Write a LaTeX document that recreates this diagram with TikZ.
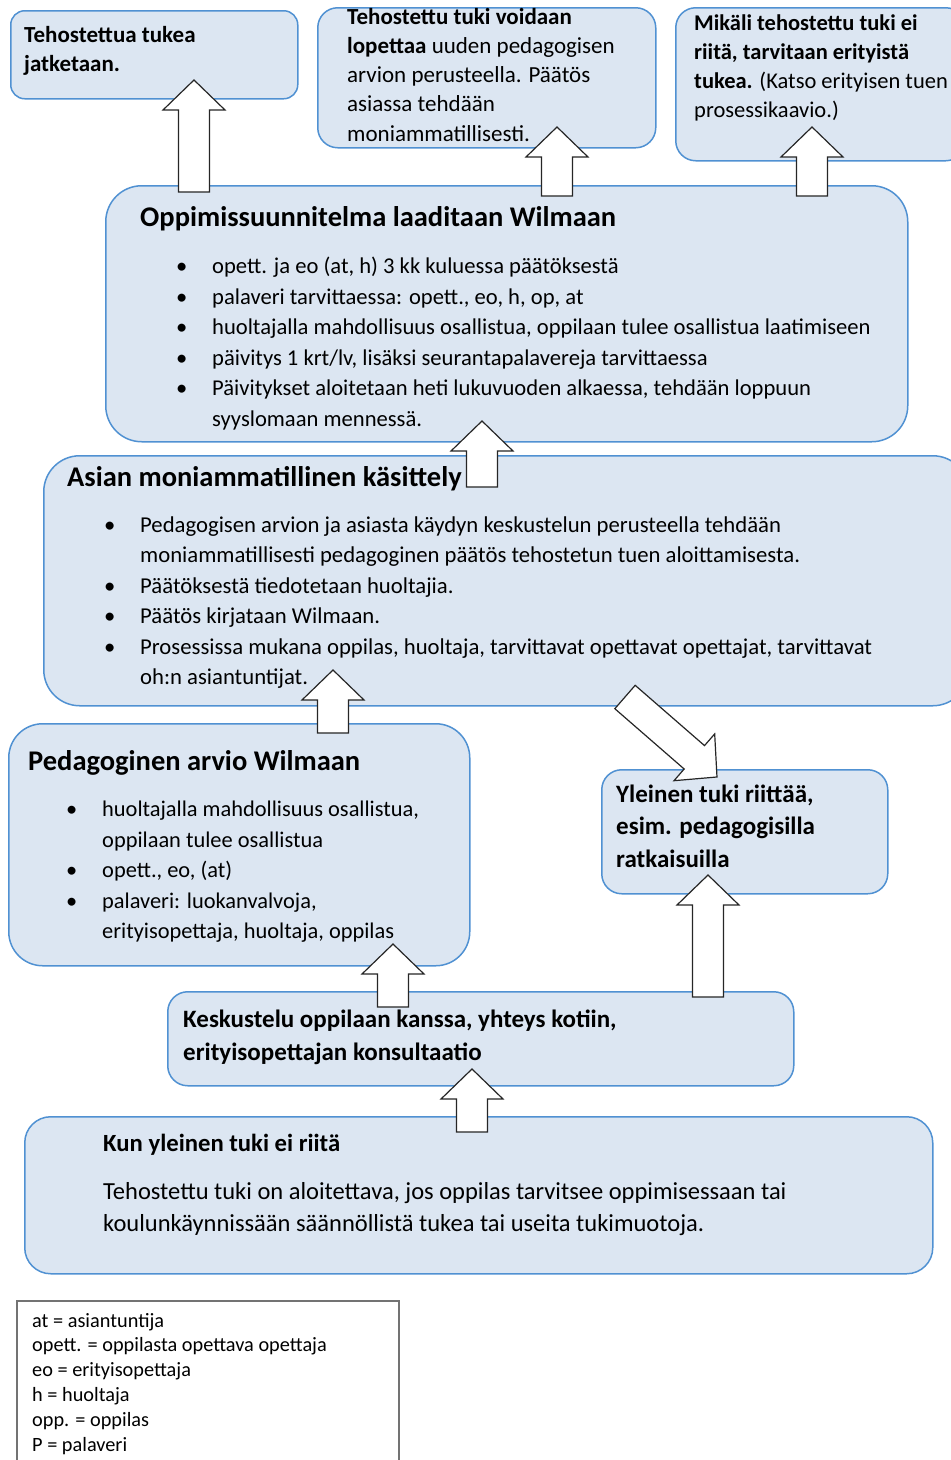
\documentclass[tikz,border=0pt]{standalone}
\usepackage{fontspec}
\setmainfont{Carlito}
\usepackage{array}
\usetikzlibrary{calc}
\usetikzlibrary{positioning}

\definecolor{tausta}{RGB}{220,230,242}
\definecolor{reuna}{RGB}{80,145,210}

\tikzset{
  laatikko/.style={draw=reuna, line width=1.5pt, fill=tausta, anchor=north west, inner sep=0pt},
  teksti/.style={inner sep=0pt, anchor=base west, font=\fontsize{22.6}{30.5}\selectfont},
  otsikko/.style={inner sep=0pt, anchor=base west, font=\bfseries\fontsize{28.5}{32}\selectfont},
  nuolityyli/.style={draw=black!85, fill=white, line width=1.2pt, line join=miter},
  selite/.style={draw=black!55, line width=1.5pt, fill=white, anchor=north west, inner sep=0pt}
}

\newcommand{\rivit}[1]{\begin{tabular}[t]{@{}l@{}}#1\end{tabular}}
\newcommand{\luettelo}[1]{\begin{tabular}[t]{@{}p{36pt}@{}l@{}}#1\end{tabular}}
% nuoli laatikosta toiseen: #1 = tyvi, #2 = karki
\newcommand{\isonuoli}[2]{%
  \path let \p1=($(#2)-(#1)$) in \pgfextra{%
    \pgfmathsetmacro\nk{atan2(\y1,\x1)}\xdef\nkulma{\nk}%
    \pgfmathsetmacro\np{veclen(\x1,\y1)}\xdef\npituus{\np}};
  \begin{scope}[shift={(#1)}, rotate=\nkulma]
    \draw[nuolityyli] (0,-15.5) -- ({\npituus-30},-15.5) -- ({\npituus-30},-31) -- (\npituus,0)
      -- ({\npituus-30},31) -- ({\npituus-30},15.5) -- (0,15.5) -- cycle;
  \end{scope}}

\begin{document}
\begin{tikzpicture}[x=1pt, y=-1pt]
  \useasboundingbox (0,0) rectangle (951,1460);
  \clip (0,0) rectangle (951,1460);

  % laatikot
  \node[laatikko, rounded corners=14pt, minimum width=287pt, minimum height=88pt] (jatk) at (10,10) {};
  \node[laatikko, rounded corners=20pt, minimum width=338pt, minimum height=140pt] (lopet) at (317,7) {};
  \node[laatikko, rounded corners=20pt, minimum width=290pt, minimum height=153pt] (erit) at (675,7) {};
  \node[laatikko, rounded corners=36pt, minimum width=802pt, minimum height=256pt] (ops) at (105,185) {};
  \node[laatikko, rounded corners=36pt, minimum width=925pt, minimum height=250pt] (kasit) at (43,455) {};
  \node[laatikko, rounded corners=34pt, minimum width=461pt, minimum height=242pt] (arvio) at (8,723) {};
  \node[laatikko, rounded corners=20pt, minimum width=286pt, minimum height=124pt] (riittaa) at (601,769) {};
  \node[laatikko, rounded corners=20pt, minimum width=626pt, minimum height=94pt] (kesk) at (167,991) {};
  \node[laatikko, rounded corners=26pt, minimum width=908pt, minimum height=157pt] (kun) at (24,1116) {};
  \node[selite, minimum width=382pt, minimum height=175pt] (sel) at (16,1300) {};

  % tekstit
  \node[teksti, font=\bfseries\fontsize{23}{29}\selectfont] (jatkt) at (24,42)
    {\rivit{Tehostettua tukea\\ jatketaan.}};
  \node[teksti, font=\fontsize{23}{29.3}\selectfont] (lopett) at (347,24)
    {\rivit{\textbf{Tehostettu tuki voidaan}\\ \textbf{lopettaa} uuden pedagogisen\\ arvion perusteella. Päätös\\ asiassa tehdään\\ moniammatillisesti.}};
  \node[teksti, font=\fontsize{22.5}{29.3}\selectfont] (eritt) at (694,30)
    {\rivit{\textbf{Mikäli tehostettu tuki ei}\\ \textbf{riitä, tarvitaan erityistä}\\ \textbf{tukea.} (Katso erityisen tuen\\ prosessikaavio.)}};

  \node[otsikko] (opso) at (140,226) {Oppimissuunnitelma laaditaan Wilmaan};
  \node[teksti, font=\fontsize{22.6}{30.6}\selectfont] (opsl) at (176,273.5)
    {\luettelo{\textbullet & opett. ja eo (at, h) 3 kk kuluessa päätöksestä\\
      \textbullet & palaveri tarvittaessa: opett., eo, h, op, at\\
      \textbullet & huoltajalla mahdollisuus osallistua, oppilaan tulee osallistua  laatimiseen\\
      \textbullet & päivitys 1 krt/lv, lisäksi seurantapalavereja tarvittaessa\\
      \textbullet & Päivitykset aloitetaan heti lukuvuoden alkaessa, tehdään loppuun\\
      & syyslomaan mennessä.}};

  \node[otsikko] (kasito) at (67,486) {Asian moniammatillinen käsittely};
  \node[teksti, font=\fontsize{22.7}{30.4}\selectfont] (kasitl) at (104,532.5)
    {\luettelo{\textbullet & Pedagogisen arvion ja asiasta käydyn keskustelun perusteella tehdään\\
      & moniammatillisesti pedagoginen päätös tehostetun tuen aloittamisesta.\\
      \textbullet & Päätöksestä tiedotetaan huoltajia.\\
      \textbullet & Päätös kirjataan Wilmaan.\\
      \textbullet & Prosessissa mukana oppilas, huoltaja, tarvittavat opettavat opettajat, tarvittavat\\
      & oh:n asiantuntijat.}};

  \node[otsikko] (arvioo) at (28,770) {Pedagoginen arvio Wilmaan};
  \node[teksti, font=\fontsize{22.4}{30.5}\selectfont] (arviol) at (66,816.5)
    {\luettelo{\textbullet & huoltajalla mahdollisuus osallistua,\\
      & oppilaan tulee osallistua\\
      \textbullet & opett., eo, (at)\\
      \textbullet & palaveri: luokanvalvoja,\\
      & erityisopettaja, huoltaja, oppilas}};

  \node[teksti, font=\bfseries\fontsize{25}{32.5}\selectfont] (riittaat) at (616,802)
    {\rivit{Yleinen tuki riittää,\\ esim. pedagogisilla\\ ratkaisuilla}};
  \node[teksti, font=\bfseries\fontsize{25}{33}\selectfont] (keskt) at (183,1027)
    {\rivit{Keskustelu oppilaan kanssa, yhteys kotiin,\\ erityisopettajan konsultaatio}};
  \node[teksti, font=\bfseries\fontsize{24.7}{30}\selectfont] (kuno) at (103,1151) {Kun yleinen tuki ei riitä};
  \node[teksti, font=\fontsize{24.5}{32}\selectfont] (kunt) at (103,1199)
    {\rivit{Tehostettu  tuki on aloitettava, jos oppilas tarvitsee oppimisessaan tai\\ koulunkäynnissään  säännöllistä tukea tai useita tukimuotoja.}};
  \node[teksti, font=\fontsize{20.3}{24.8}\selectfont] (selt) at (32,1327)
    {\rivit{at = asiantuntija\\ opett. = oppilasta opettava opettaja\\ eo = erityisopettaja\\ h = huoltaja\\ opp. = oppilas\\ P = palaveri}};

  % nuolten paat
  \coordinate (n1a) at (194,192);  \coordinate (n1b) at (194,80);
  \coordinate (n2a) at (557,196);  \coordinate (n2b) at (557,127);
  \coordinate (n3a) at (812,196);  \coordinate (n3b) at (812,127);
  \coordinate (n4a) at (482,487);  \coordinate (n4b) at (482,421);
  \coordinate (n5a) at (333,733);  \coordinate (n5b) at (333,670);
  \coordinate (n6a) at (393,1007); \coordinate (n6b) at (393,944);
  \coordinate (n7a) at (708,997);  \coordinate (n7b) at (708,875);
  \coordinate (n8a) at (472,1132); \coordinate (n8b) at (472,1069);
  \coordinate (n9a) at (625,697);  \coordinate (n9b) at (717,777);

  \isonuoli{n1a}{n1b}
  \isonuoli{n2a}{n2b}
  \isonuoli{n3a}{n3b}
  \isonuoli{n4a}{n4b}
  \isonuoli{n5a}{n5b}
  \isonuoli{n6a}{n6b}
  \isonuoli{n7a}{n7b}
  \isonuoli{n8a}{n8b}
  \isonuoli{n9a}{n9b}
\end{tikzpicture}
\end{document}
